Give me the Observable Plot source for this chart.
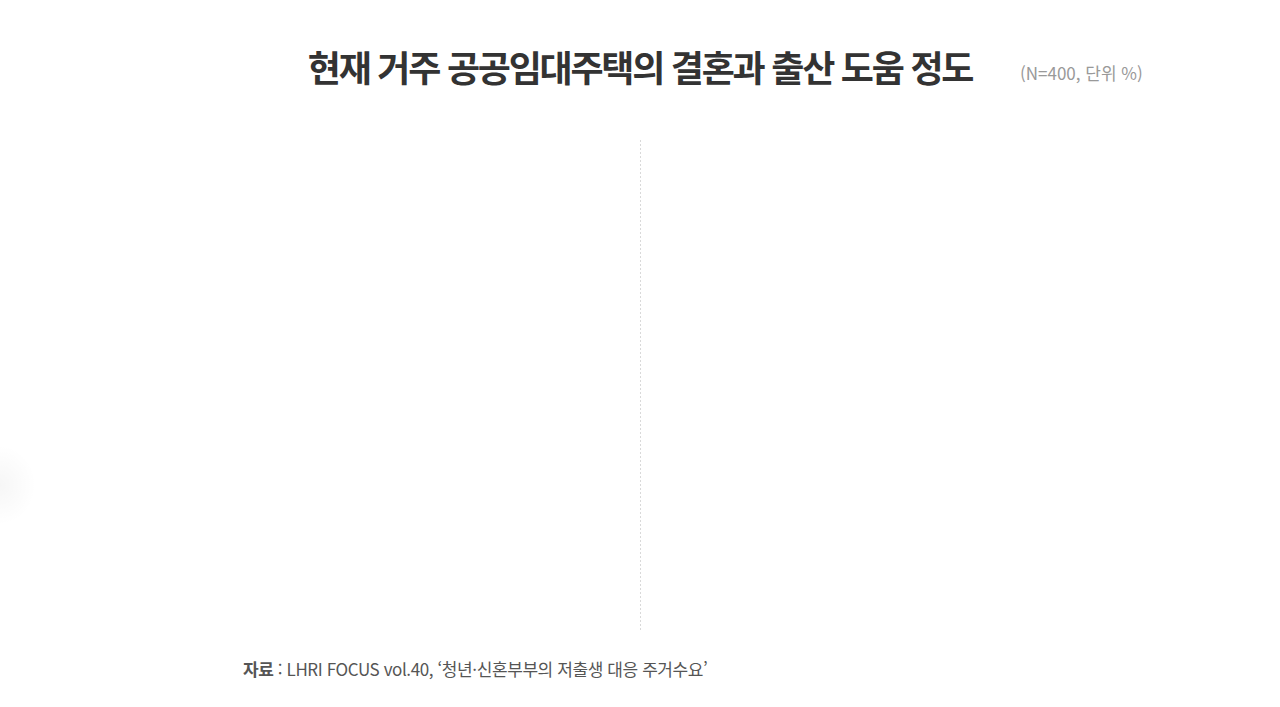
<!DOCTYPE html>
<html lang="ko">
<head>
<meta charset="utf-8">
<script src="https://cdn.jsdelivr.net/npm/d3@7"></script>
<script src="https://cdn.jsdelivr.net/npm/@observablehq/plot@0.6"></script>
<style>
  html, body { margin: 0; padding: 0; background: #fff; width: 1280px; height: 707px; overflow: hidden; }
  body { position: relative; font-family: "Noto Sans CJK KR", "Noto Sans", sans-serif; }
  #title { position: absolute; left: 0; width: 1280px; top: 41px; text-align: center;
           font-size: 36px; font-weight: 700; color: #333; letter-spacing: -2.25px; line-height: 50px; white-space: nowrap; }
  #subtitle { position: absolute; left: 1020px; top: 61px; font-size: 17px; color: #999;
              letter-spacing: 0px; line-height: 24px; white-space: nowrap; }
  #chart { position: absolute; left: 0; top: 140px; }
  #caption { position: absolute; left: 243px; top: 656px; font-size: 17px; color: #555;
             letter-spacing: -0.4px; line-height: 26px; white-space: nowrap; }
  #caption b { font-weight: 700; }
  #blob { position: absolute; left: -36px; top: 445px; width: 72px; height: 80px;
          background: radial-gradient(closest-side, rgba(0,0,0,0.035), rgba(0,0,0,0)); }
</style>
</head>
<body>
<div id="title">현재 거주 공공임대주택의 결혼과 출산 도움 정도</div>
<div id="subtitle">(N=400, 단위 %)</div>
<div id="chart"></div>
<div id="caption"><b>자료</b> : LHRI FOCUS vol.40, ‘청년·신혼부부의 저출생 대응 주거수요’</div>
<div id="blob"></div>
<script>
// Chart data (the two panels are empty in the reference; only the divider between them is visible)
const panelBounds = [-1, 1];
const divider = [0];

const plot = Plot.plot({
  width: 1280,
  height: 492,
  margin: 0,
  x: { domain: panelBounds, axis: null },
  y: { axis: null },
  marks: [
    Plot.ruleX(divider, { stroke: "#d9d9d9", strokeWidth: 1, strokeDasharray: "2,2" })
  ]
});
document.getElementById("chart").appendChild(plot);
</script>
</body>
</html>
